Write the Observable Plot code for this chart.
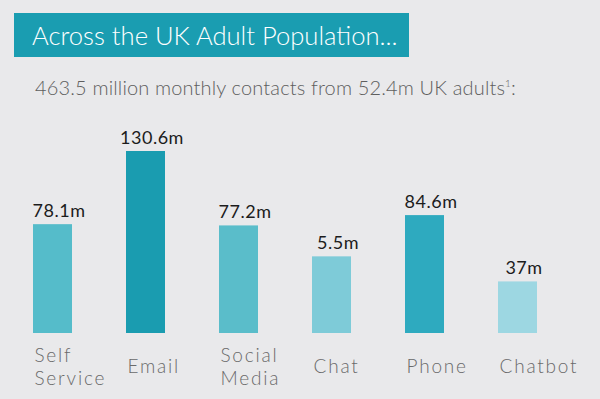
<!DOCTYPE html>
<html>
<head>
<meta charset="utf-8">
<script src="https://cdn.jsdelivr.net/npm/d3@7"></script>
<script src="https://cdn.jsdelivr.net/npm/@observablehq/plot@0.6"></script>
<style>
  html, body { margin: 0; padding: 0; background: #e9e9eb; width: 600px; height: 399px; overflow: hidden; font-family: Lato, "DejaVu Sans", sans-serif; }
  #title { position: absolute; left: 14px; top: 13px; width: 395px; height: 44px; box-sizing: border-box; padding-left: 18px; background: #1a9db1; color: #fff; font-size: 25.6px; line-height: 44px; font-weight: 300; white-space: nowrap; }
  #subtitle { position: absolute; left: 35px; top: 77px; font-size: 20px; line-height: 20px; letter-spacing: 0.15px; color: #5e5e5e; font-weight: 300; white-space: nowrap; }
  #subtitle sup { font-size: 10px; vertical-align: 8px; line-height: 0; }
  #chart { position: absolute; left: 0; top: 110px; }
</style>
</head>
<body>
<div id="title">Across the UK Adult Population...</div>
<div id="subtitle">463.5 million monthly contacts from 52.4m UK adults<sup>1</sup>:</div>
<div id="chart"></div>
<script>
const categories = ["Self Service", "Email", "Social Media", "Chat", "Phone", "Chatbot"];
const barValues = [78.1, 130.6, 77.2, 55, 84.6, 37];
const valueLabels = ["78.1m", "130.6m", "77.2m", "5.5m", "84.6m", "37m"];
const barColors = ["#55bcca", "#1a9cb0", "#5abdca", "#7ecbd8", "#2eaabf", "#9dd7e2"];

const data = categories.map((name, i) => ({name, value: barValues[i], label: valueLabels[i]}));

const chart = Plot.plot({
  width: 600,
  height: 289,
  marginTop: 41,
  marginBottom: 66,
  marginLeft: 32,
  marginRight: 62,
  style: {background: "transparent", fontFamily: "Lato, sans-serif"},
  x: {domain: categories, paddingInner: 0.5825, paddingOuter: 0, axis: null},
  y: {domain: [0, d3.max(barValues)], axis: null},
  color: {domain: categories, range: barColors},
  marks: [
    Plot.barY(data, {x: "name", y: "value", fill: "name"}),
    Plot.text(data, {x: "name", y: "value", text: "label", lineAnchor: "bottom", dy: -8, dx: 6, fontSize: 18, fill: "#1c1c1c"}),
    Plot.text(data, {x: "name", text: d => d.name.replace(" ", "\n"), frameAnchor: "bottom", lineAnchor: "middle", textAnchor: "start", dx: -18.5, dy: 32.7, lineHeight: 1.2, fontSize: 19, fontWeight: 300, fill: "#6a6a6a"})
  ]
});
chart.querySelectorAll('[font-size="18"]').forEach(g => g.setAttribute("letter-spacing", "0.5"));
chart.querySelectorAll('[font-size="19"]').forEach(g => g.setAttribute("letter-spacing", "1.8"));
document.getElementById("chart").appendChild(chart);
</script>
</body>
</html>
